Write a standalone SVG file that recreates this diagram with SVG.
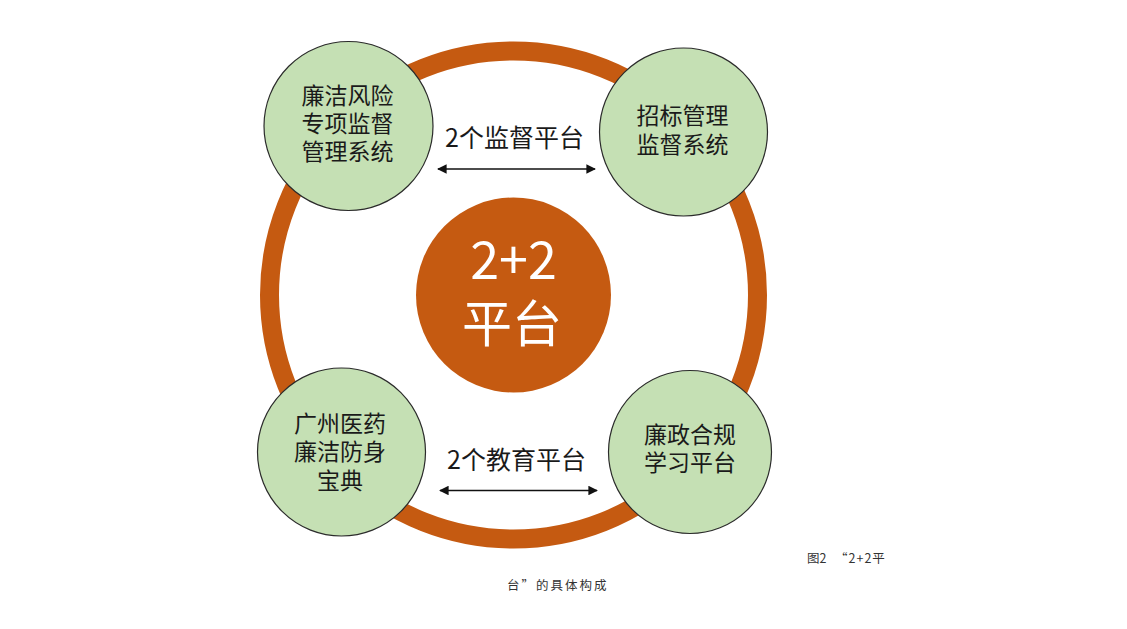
<svg xmlns="http://www.w3.org/2000/svg" width="1127" height="629" viewBox="0 0 1127 629">
<style>
.node{fill:#C5E0B4;stroke:#2b2b2b;stroke-width:1.2}
.nt{font-family:"Noto Sans CJK SC","Noto Sans",sans-serif;font-size:23px;fill:#1a1a1a;text-anchor:middle}
.lbl{font-family:"Noto Sans CJK SC","Noto Sans",sans-serif;font-size:25px;fill:#1a1a1a;text-anchor:middle;dominant-baseline:central}
.ct{font-family:"Noto Sans CJK SC","Noto Sans",sans-serif;fill:#ffffff;text-anchor:middle}
.cap{font-family:"Noto Sans CJK SC","Noto Sans",sans-serif;font-size:12.5px;fill:#333}
.conn{stroke:#111;stroke-width:1.6;fill:none;marker-start:url(#ah);marker-end:url(#ah)}
</style>
<defs>
<marker id="ah" viewBox="0 0 10 10" refX="9" refY="5" markerWidth="6" markerHeight="6" orient="auto-start-reverse" markerUnits="strokeWidth">
<path d="M0,0 L10,5 L0,10 z" fill="#111"/>
</marker>
</defs>
<rect width="1127" height="629" fill="#ffffff"/>
<g id="ring">
<circle cx="513.5" cy="295" r="244" fill="none" stroke="#C55A11" stroke-width="19"/>
</g>
<g id="center">
<circle cx="513.5" cy="295" r="97.5" fill="#C55A11"/>
<text class="ct" x="513.5" y="279" font-size="52">2+2</text>
<text class="ct" x="512" y="342" font-size="50">平台</text>
</g>
<g id="connectors">
<line class="conn" x1="438" y1="169" x2="595" y2="169"/>
<line class="conn" x1="440" y1="490.5" x2="597" y2="490.5"/>
</g>
<g id="label-top">
<text class="lbl" x="514.5" y="136">2个监督平台</text>
</g>
<g id="label-bottom">
<text class="lbl" x="516.5" y="458">2个教育平台</text>
</g>
<g id="node-tl">
<circle class="node" cx="348.5" cy="126" r="84.5"/>
<text class="nt" x="347.5" y="104"><tspan x="347.5" y="104">廉洁风险</tspan><tspan x="347.5" y="132">专项监督</tspan><tspan x="347.5" y="160">管理系统</tspan></text>
</g>
<g id="node-tr">
<circle class="node" cx="683.5" cy="132" r="84"/>
<text class="nt" x="682.5" y="124"><tspan x="682.5" y="124">招标管理</tspan><tspan x="682.5" y="153">监督系统</tspan></text>
</g>
<g id="node-bl">
<circle class="node" cx="341.5" cy="452" r="84"/>
<text class="nt" x="340" y="432"><tspan x="340" y="432">广州医药</tspan><tspan x="340" y="460">廉洁防身</tspan><tspan x="340" y="489">宝典</tspan></text>
</g>
<g id="node-br">
<circle class="node" cx="690" cy="452" r="81.5"/>
<text class="nt" x="690" y="443"><tspan x="690" y="443">廉政合规</tspan><tspan x="690" y="471">学习平台</tspan></text>
</g>
<g id="caption">
<text class="cap" x="807" y="563">图2</text>
<text class="cap" x="835" y="563" letter-spacing="1">“2+2平</text>
<text class="cap" x="507" y="590" letter-spacing="2">台”的具体构成</text>
</g>
</svg>
